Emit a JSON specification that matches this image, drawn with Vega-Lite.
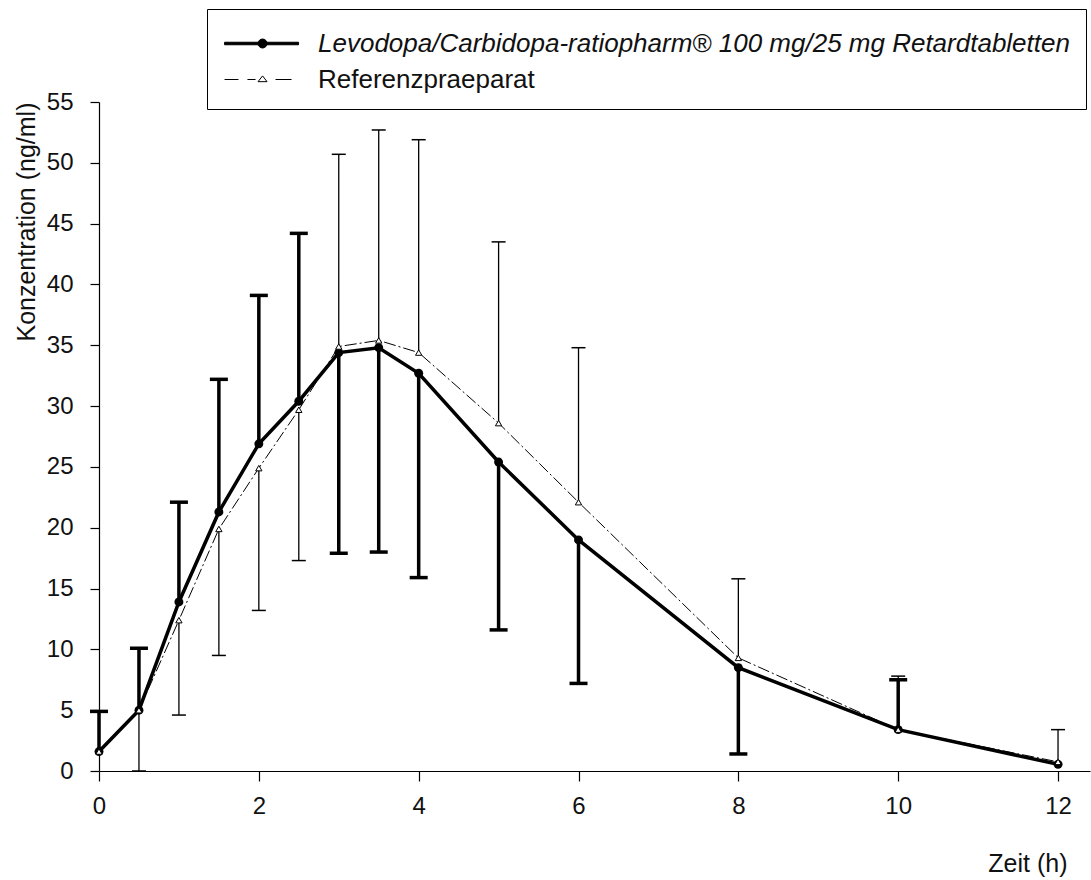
{
  "$schema": "https://vega.github.io/schema/vega-lite/v6.json",
  "width": 991,
  "height": 669,
  "autosize": {"type": "none"},
  "padding": {"left": 99, "top": 102, "right": 1, "bottom": 109},
  "background": "white",
  "config": {
    "view": {"stroke": null},
    "font": "Liberation Sans",
    "axis": {
      "grid": false,
      "domainColor": "black",
      "domainWidth": 1.2,
      "tickColor": "black",
      "tickWidth": 1.2,
      "labelColor": "#111111",
      "titleColor": "#111111",
      "labelFont": "Liberation Sans",
      "titleFont": "Liberation Sans",
      "labelFontSize": 24,
      "titleFontSize": 25,
      "titleFontWeight": "normal",
      "labelFlush": false
    }
  },
  "data": {
    "values": [
      {"t": 0, "series": "Levodopa/Carbidopa-ratiopharm® 100 mg/25 mg Retardtabletten", "conc": 1.6, "sd_end": 4.9},
      {"t": 0.5, "series": "Levodopa/Carbidopa-ratiopharm® 100 mg/25 mg Retardtabletten", "conc": 5.0, "sd_end": 10.1},
      {"t": 1, "series": "Levodopa/Carbidopa-ratiopharm® 100 mg/25 mg Retardtabletten", "conc": 13.9, "sd_end": 22.1},
      {"t": 1.5, "series": "Levodopa/Carbidopa-ratiopharm® 100 mg/25 mg Retardtabletten", "conc": 21.3, "sd_end": 32.2},
      {"t": 2, "series": "Levodopa/Carbidopa-ratiopharm® 100 mg/25 mg Retardtabletten", "conc": 26.9, "sd_end": 39.1},
      {"t": 2.5, "series": "Levodopa/Carbidopa-ratiopharm® 100 mg/25 mg Retardtabletten", "conc": 30.4, "sd_end": 44.2},
      {"t": 3, "series": "Levodopa/Carbidopa-ratiopharm® 100 mg/25 mg Retardtabletten", "conc": 34.4, "sd_end": 17.9},
      {"t": 3.5, "series": "Levodopa/Carbidopa-ratiopharm® 100 mg/25 mg Retardtabletten", "conc": 34.8, "sd_end": 18.0},
      {"t": 4, "series": "Levodopa/Carbidopa-ratiopharm® 100 mg/25 mg Retardtabletten", "conc": 32.7, "sd_end": 15.9},
      {"t": 5, "series": "Levodopa/Carbidopa-ratiopharm® 100 mg/25 mg Retardtabletten", "conc": 25.4, "sd_end": 11.6},
      {"t": 6, "series": "Levodopa/Carbidopa-ratiopharm® 100 mg/25 mg Retardtabletten", "conc": 19.0, "sd_end": 7.2},
      {"t": 8, "series": "Levodopa/Carbidopa-ratiopharm® 100 mg/25 mg Retardtabletten", "conc": 8.5, "sd_end": 1.4},
      {"t": 10, "series": "Levodopa/Carbidopa-ratiopharm® 100 mg/25 mg Retardtabletten", "conc": 3.4, "sd_end": 7.5},
      {"t": 12, "series": "Levodopa/Carbidopa-ratiopharm® 100 mg/25 mg Retardtabletten", "conc": 0.55, "sd_end": null},
      {"t": 0, "series": "Referenzpraeparat", "conc": 1.6, "sd_end": null},
      {"t": 0.5, "series": "Referenzpraeparat", "conc": 5.0, "sd_end": 0.0},
      {"t": 1, "series": "Referenzpraeparat", "conc": 12.4, "sd_end": 4.6},
      {"t": 1.5, "series": "Referenzpraeparat", "conc": 19.9, "sd_end": 9.5},
      {"t": 2, "series": "Referenzpraeparat", "conc": 24.9, "sd_end": 13.2},
      {"t": 2.5, "series": "Referenzpraeparat", "conc": 29.7, "sd_end": 17.3},
      {"t": 3, "series": "Referenzpraeparat", "conc": 34.9, "sd_end": 50.7},
      {"t": 3.5, "series": "Referenzpraeparat", "conc": 35.4, "sd_end": 52.7},
      {"t": 4, "series": "Referenzpraeparat", "conc": 34.4, "sd_end": 51.9},
      {"t": 5, "series": "Referenzpraeparat", "conc": 28.6, "sd_end": 43.5},
      {"t": 6, "series": "Referenzpraeparat", "conc": 22.1, "sd_end": 34.8},
      {"t": 8, "series": "Referenzpraeparat", "conc": 9.3, "sd_end": 15.8},
      {"t": 10, "series": "Referenzpraeparat", "conc": 3.4, "sd_end": 7.8},
      {"t": 12, "series": "Referenzpraeparat", "conc": 0.75, "sd_end": 3.4}
    ]
  },
  "encoding": {
    "x": {
      "field": "t",
      "type": "quantitative",
      "scale": {"domain": [0, 12.4], "nice": false, "zero": false},
      "axis": {
        "values": [0, 2, 4, 6, 8, 10, 12],
        "title": "Zeit (h)",
        "tickSize": 10,
        "labelPadding": 13,
        "titleX": 968,
        "titleY": 92,
        "titleAlign": "right",
        "titleBaseline": "middle",
        "titleAngle": 0
      }
    },
    "y": {
      "field": "conc",
      "type": "quantitative",
      "scale": {"domain": [0, 55], "nice": false, "zero": false},
      "axis": {
        "values": [0, 5, 10, 15, 20, 25, 30, 35, 40, 45, 50, 55],
        "title": "Konzentration (ng/ml)",
        "tickSize": 9,
        "labelPadding": 17,
        "titleAnchor": "end",
        "titleX": -73,
        "titleBaseline": "middle"
      }
    }
  },
  "layer": [
    {
      "transform": [{"filter": "datum.series === 'Referenzpraeparat'"}],
      "mark": {"type": "line", "color": "black", "strokeWidth": 1, "strokeDash": [12, 3, 2, 3]}
    },
    {
      "transform": [{"filter": "datum.series === 'Referenzpraeparat' && datum.sd_end != null"}],
      "mark": {"type": "rule", "color": "black", "strokeWidth": 1.3},
      "encoding": {"y2": {"field": "sd_end"}}
    },
    {
      "transform": [{"filter": "datum.series === 'Referenzpraeparat' && datum.sd_end != null"}],
      "mark": {"type": "tick", "orient": "horizontal", "color": "black", "size": 14, "thickness": 1.5, "opacity": 1},
      "encoding": {"y": {"field": "sd_end", "type": "quantitative"}}
    },
    {
      "transform": [{"filter": "datum.series !== 'Referenzpraeparat'"}],
      "mark": {"type": "line", "color": "black", "strokeWidth": 3.5}
    },
    {
      "transform": [{"filter": "datum.series !== 'Referenzpraeparat' && datum.sd_end != null"}],
      "mark": {"type": "rule", "color": "black", "strokeWidth": 3.5},
      "encoding": {"y2": {"field": "sd_end"}}
    },
    {
      "transform": [{"filter": "datum.series !== 'Referenzpraeparat' && datum.sd_end != null"}],
      "mark": {"type": "tick", "orient": "horizontal", "color": "black", "size": 18, "thickness": 3.5, "opacity": 1},
      "encoding": {"y": {"field": "sd_end", "type": "quantitative"}}
    },
    {
      "transform": [{"filter": "datum.series !== 'Referenzpraeparat'"}],
      "mark": {"type": "point", "shape": "circle", "filled": true, "color": "black", "size": 80, "opacity": 1}
    },
    {
      "transform": [{"filter": "datum.series === 'Referenzpraeparat'"}],
      "mark": {"type": "point", "shape": "triangle-up", "filled": true, "fill": "white", "stroke": "black", "strokeWidth": 1, "size": 40, "opacity": 1}
    },
    {
      "transform": [{"filter": "false"}],
      "mark": {"type": "point", "filled": true, "stroke": "black", "strokeWidth": 1, "opacity": 1},
      "encoding": {
        "shape": {
          "field": "series",
          "type": "nominal",
          "scale": {
            "domain": ["Levodopa/Carbidopa-ratiopharm® 100 mg/25 mg Retardtabletten", "Referenzpraeparat"],
            "range": [
              "M-0.94,-0.07H3.17V0.07H-0.94Z M0.92,0A0.25,0.25 0 1,1 1.42,0A0.25,0.25 0 1,1 0.92,0Z",
              "M-0.94,0H-0.17 M0.33,0H0.78 M1.17,-0.2L1.42,0.12L0.92,0.12Z M1.89,0H2.78"
            ]
          },
          "legend": {
            "title": null,
            "orient": "none",
            "legendX": 108,
            "legendY": -93,
            "padding": 16,
            "strokeColor": "black",
            "fillColor": "white",
            "symbolSize": 1296,
            "symbolStrokeColor": "black",
            "symbolStrokeWidth": 1,
            "labelFont": "Liberation Sans",
            "labelFontSize": 26,
            "labelColor": "#111111",
            "labelOffset": 58,
            "labelLimit": 2000,
            "rowPadding": 4,
            "labelFontStyle": {"expr": "datum.value === 'Referenzpraeparat' ? 'normal' : 'italic'"}
          }
        },
        "fill": {
          "field": "series",
          "type": "nominal",
          "scale": {
            "domain": ["Levodopa/Carbidopa-ratiopharm® 100 mg/25 mg Retardtabletten", "Referenzpraeparat"],
            "range": ["black", "white"]
          },
          "legend": {"title": null}
        },
        "stroke": {
          "field": "series",
          "type": "nominal",
          "scale": {
            "domain": ["Levodopa/Carbidopa-ratiopharm® 100 mg/25 mg Retardtabletten", "Referenzpraeparat"],
            "range": ["black", "black"]
          },
          "legend": {"title": null}
        }
      }
    }
  ]
}
